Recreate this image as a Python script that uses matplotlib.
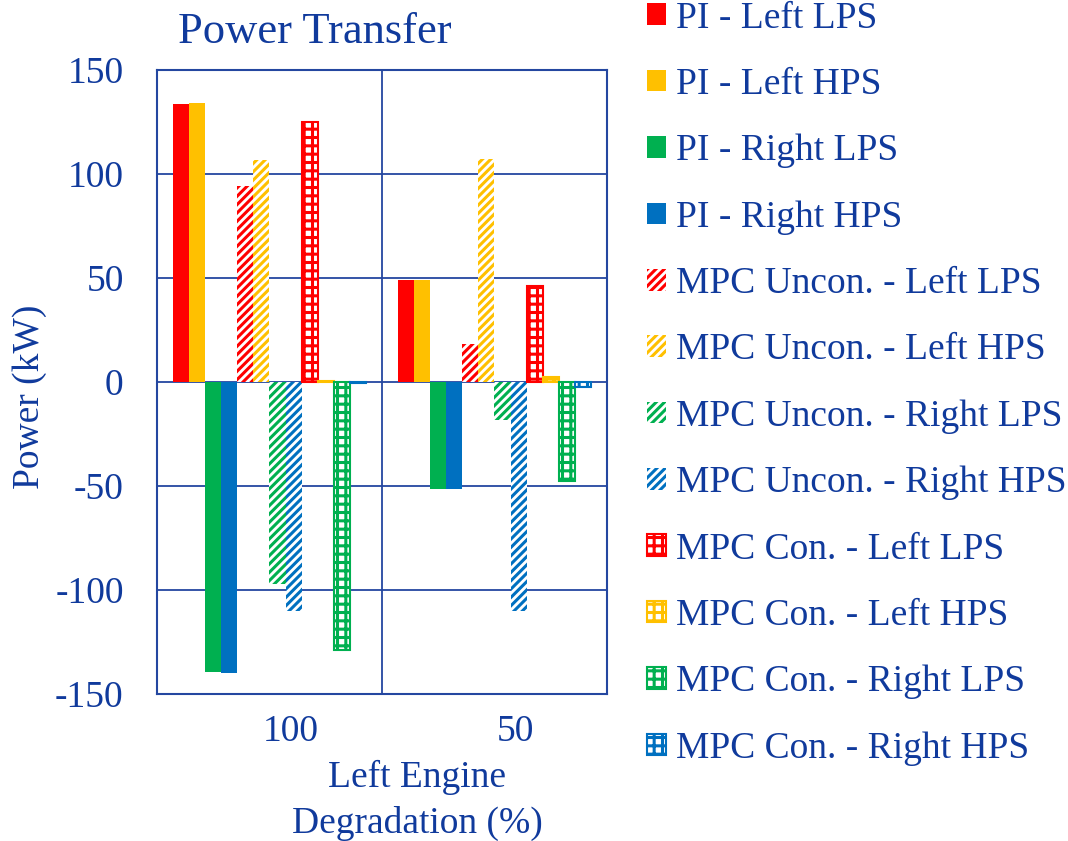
import matplotlib
matplotlib.use("Agg")
import numpy as np
import matplotlib.pyplot as plt
from matplotlib.patches import Patch
from matplotlib.transforms import ScaledTranslation

# degradation levels (categories)
categories = ["100", "50"]

# series names, in bar order
series = [
    "PI - Left LPS", "PI - Left HPS", "PI - Right LPS", "PI - Right HPS",
    "MPC Uncon. - Left LPS", "MPC Uncon. - Left HPS",
    "MPC Uncon. - Right LPS", "MPC Uncon. - Right HPS",
    "MPC Con. - Left LPS", "MPC Con. - Left HPS",
    "MPC Con. - Right LPS", "MPC Con. - Right HPS",
]

# power values (kW), [100 %, 50 %]
pi_left_lps = [133.5, 49.2]
pi_left_hps = [134.0, 49.2]
pi_right_lps = [-139.6, -51.4]
pi_right_hps = [-140.0, -51.6]
unc_left_lps = [94.3, 18.3]
unc_left_hps = [106.5, 107.3]
unc_right_lps = [-97.2, -18.5]
unc_right_hps = [-110.0, -110.0]
con_left_lps = [125.0, 46.3]
con_left_hps = [0.5, 2.4]
con_right_lps = [-128.7, -47.4]
con_right_hps = [-0.5, -2.4]

values = [pi_left_lps, pi_left_hps, pi_right_lps, pi_right_hps,
          unc_left_lps, unc_left_hps, unc_right_lps, unc_right_hps,
          con_left_lps, con_left_hps, con_right_lps, con_right_hps]

RED, YEL, GRN, BLU = "#FF0000", "#FFC000", "#00B050", "#0070C0"
colors = [RED, YEL, GRN, BLU] * 3
TXT = "#103A9C"
GRID = "#2447A0"

plt.rcParams["font.family"] = ["Liberation Serif", "DejaVu Serif"]
plt.rcParams["hatch.linewidth"] = 2.2

fig = plt.figure(figsize=(10.68, 8.41), dpi=100)
ax = fig.add_axes([0.147, 0.1748, 0.4213, 0.742])

n = len(series)
bw = 1.0 / (n + 2)
x = np.arange(len(categories))
handles = []
for j, (name, vals, c) in enumerate(zip(series, values, colors)):
    pos = x - 0.5 + (j + 1.5) * bw
    if j < 4:
        kw = dict(color=c, edgecolor=c, linewidth=0)
    elif j < 8:
        kw = dict(facecolor="white", edgecolor=c, hatch="////", linewidth=0)
    else:
        kw = dict(facecolor="white", edgecolor=c, hatch="++", linewidth=1.5)
    ax.bar(pos, vals, width=bw, zorder=3, **kw)
    handles.append(Patch(label=name, **kw))

ax.set_xlim(-0.5, len(categories) - 0.5)
ax.set_ylim(-150, 150)
ax.set_yticks(np.arange(-150, 151, 50))
ax.set_yticklabels([str(v) for v in range(-150, 151, 50)])
# gridlines between categories, labels at the centre
ax.set_xticks(np.arange(len(categories) - 1) + 0.5)
ax.set_xticklabels([])
ax.set_xticks(x, minor=True)
ax.set_xticklabels(categories, minor=True)
ax.grid(True, which="major", color=GRID, linewidth=1.3, zorder=0)
ax.tick_params(which="both", length=0, labelsize=27, colors=TXT)
ax.tick_params(axis="y", pad=24)
ax.tick_params(axis="x", which="minor", pad=15)
off = ScaledTranslation(21 / 100, 0, fig.dpi_scale_trans)
for lab in ax.get_xticklabels(minor=True):
    lab.set_transform(lab.get_transform() + off)
for s in ax.spines.values():
    s.set_color(GRID)
    s.set_linewidth(1.5)

fig.text(315 / 1068, 1 - 43 / 841, "Power Transfer", fontsize=32,
         color=TXT, ha="center", va="baseline")
fig.text(30 / 1068, 1 - 397 / 841, "Power (kW)", fontsize=27,
         color=TXT, rotation=90, ha="center", va="center")
fig.text(417 / 1068, 1 - 800 / 841, "Left Engine\nDegradation (%)",
         fontsize=27, color=TXT, ha="center", va="center", linespacing=1.4)

leg = fig.legend(handles=handles, loc="upper left",
                 bbox_to_anchor=(632 / 1068, 1 + 14 / 841), frameon=False,
                 fontsize=27, handlelength=0.51, handleheight=0.51,
                 handletextpad=0.25, labelspacing=0.85, borderaxespad=0)
for t in leg.get_texts():
    t.set_color(TXT)

fig.savefig("out.png", dpi=100)
